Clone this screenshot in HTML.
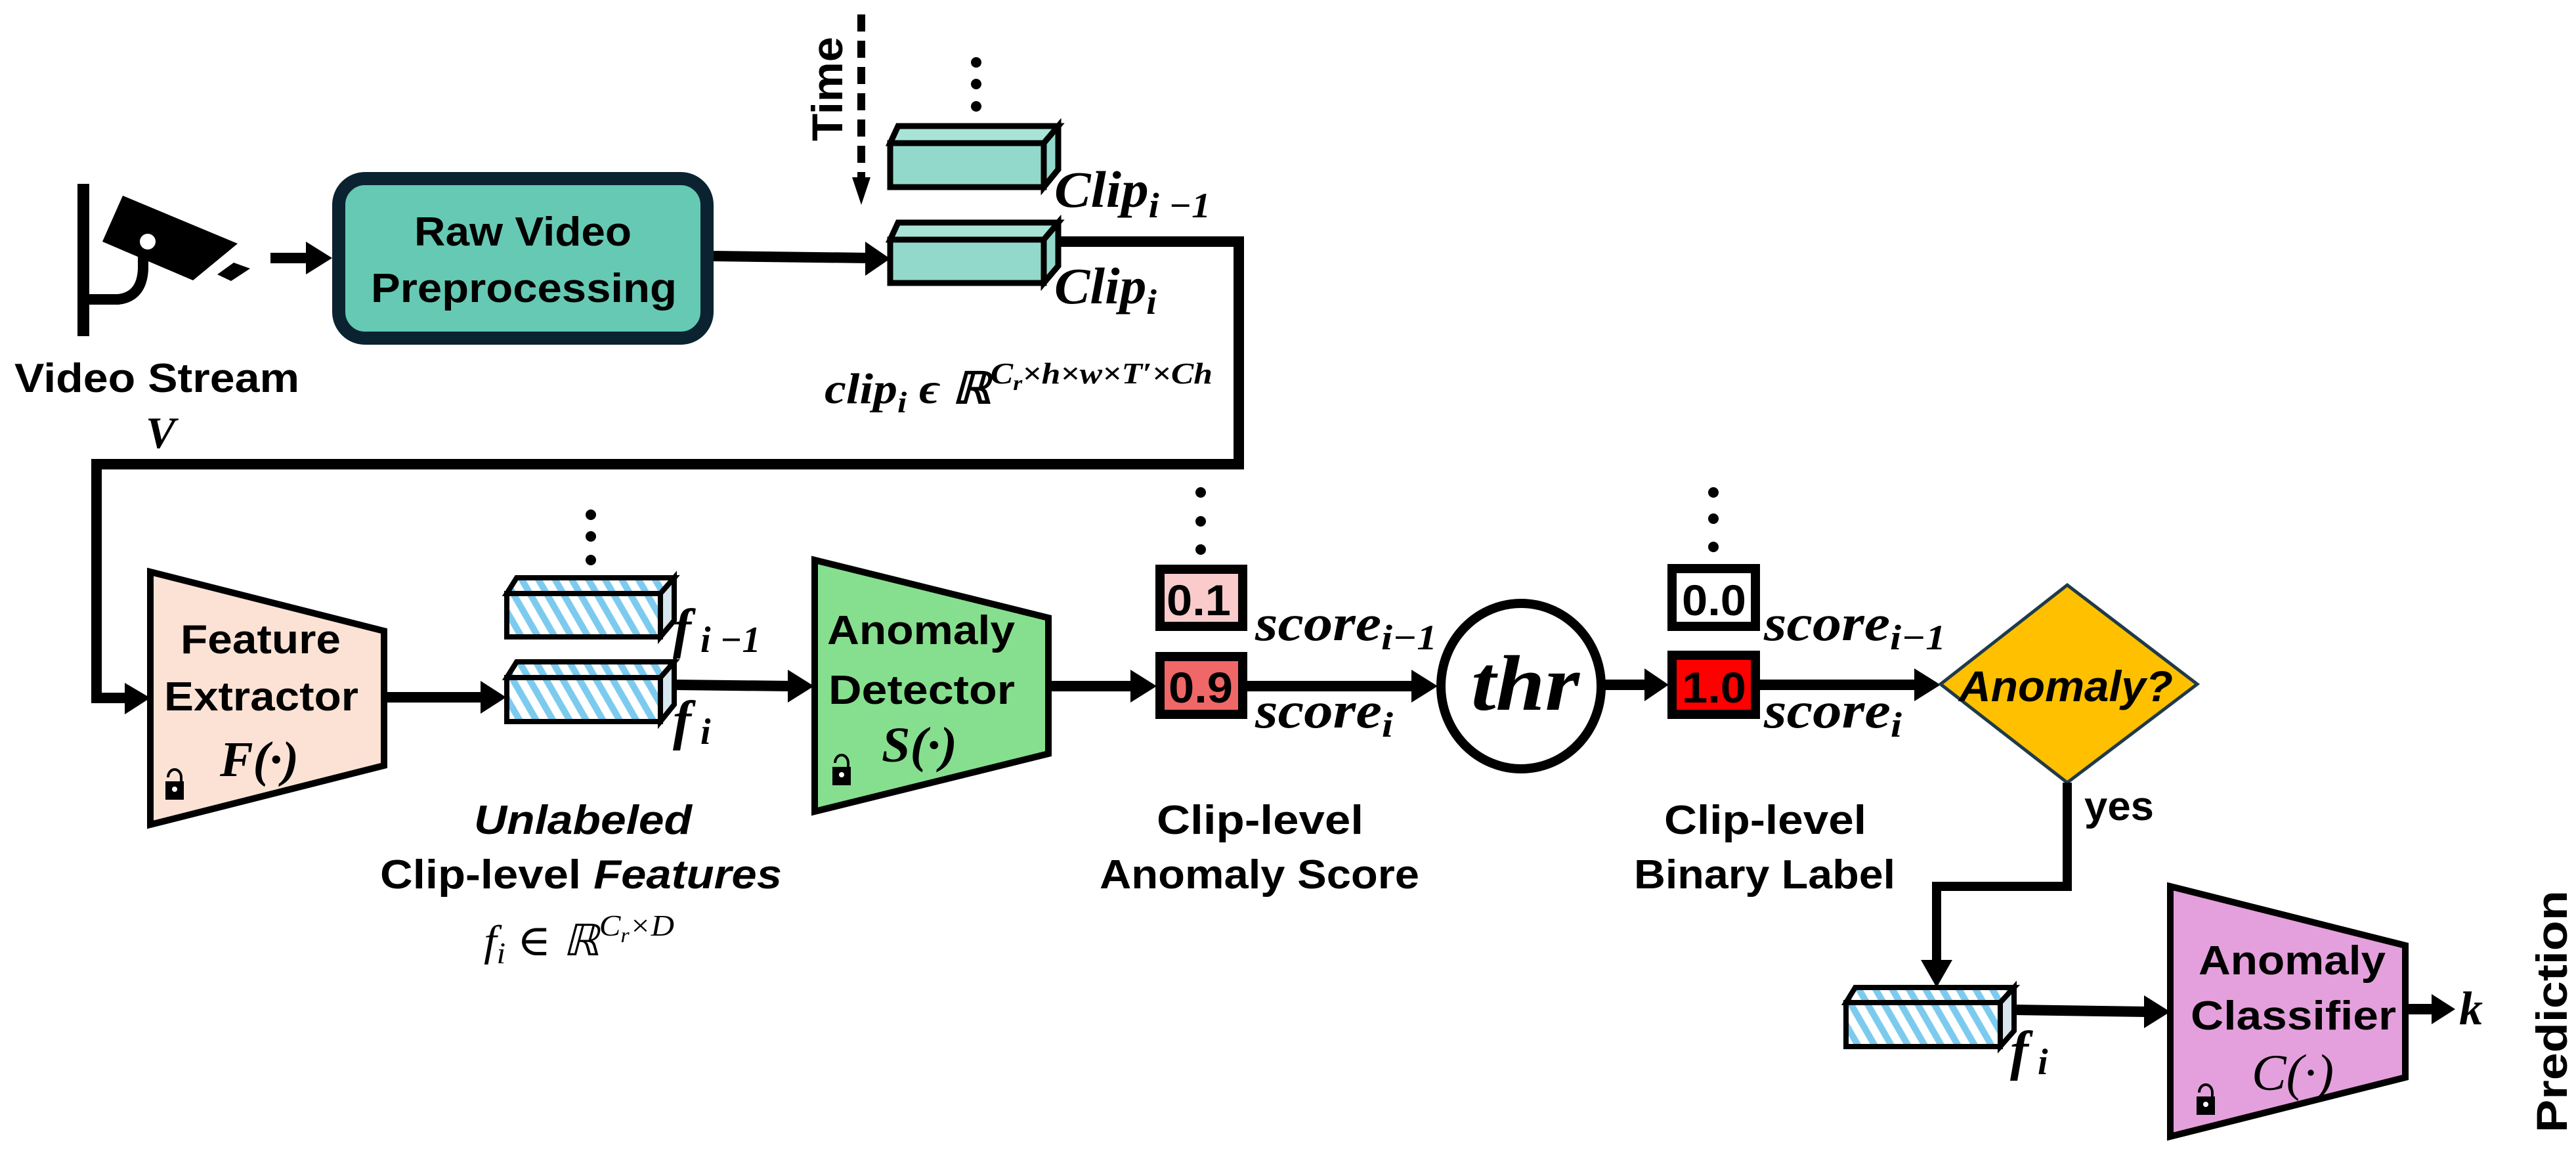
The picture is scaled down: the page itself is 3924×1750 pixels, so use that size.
<!DOCTYPE html>
<html><head><meta charset="utf-8"><style>
html,body{margin:0;padding:0;background:#fff;}
svg{display:block;}
.b{font-family:"Liberation Sans",sans-serif;font-weight:bold;fill:#000;}
.m{font-family:"Liberation Serif","DejaVu Serif",serif;font-style:italic;font-weight:bold;fill:#000;}
.mi{font-family:"Liberation Serif","DejaVu Serif",serif;font-style:italic;fill:#000;}
</style></head><body>
<svg width="3924" height="1750" viewBox="0 0 3924 1750" xmlns="http://www.w3.org/2000/svg">
<defs>
<pattern id="h" patternUnits="userSpaceOnUse" width="22" height="22" patternTransform="rotate(-30)">
<rect width="22" height="22" fill="#fff"/><rect width="10" height="22" fill="#7CCBEF"/>
</pattern>
</defs>

<!-- camera -->
<rect x="118" y="280" width="18" height="232" fill="#000"/>
<path d="M135,456 L180,456 Q216,452 218,410 L218,388" fill="none" stroke="#000" stroke-width="16"/>
<polygon points="187,298 362,371 294,427 156,368" fill="#000"/>
<circle cx="225" cy="368" r="12" fill="#fff"/>
<polygon points="331,418 356,400 381,409 352,428" fill="#000"/>
<text class="b" x="22" y="597" font-size="62" textLength="434" lengthAdjust="spacingAndGlyphs">Video Stream</text>
<text class="m" x="222" y="682" font-size="68">V</text>

<line x1="412" y1="393" x2="470" y2="393" stroke="#000" stroke-width="16"/>
<polygon points="466,368 506,393 466,418" fill="#000"/>

<rect x="516" y="272" width="561" height="243" rx="40" fill="#66C9B4" stroke="#0B2330" stroke-width="20"/>
<text class="b" x="631" y="374" font-size="62" textLength="331" lengthAdjust="spacingAndGlyphs">Raw Video</text>
<text class="b" x="565" y="460" font-size="62" textLength="466" lengthAdjust="spacingAndGlyphs">Preprocessing</text>

<line x1="1087" y1="390" x2="1325" y2="393" stroke="#000" stroke-width="16"/>
<polygon points="1318,368 1356,394 1318,420" fill="#000"/>

<line x1="1312" y1="22" x2="1312" y2="280" stroke="#000" stroke-width="12" stroke-dasharray="26,14"/>
<polygon points="1298,270 1326,270 1312,312" fill="#000"/>
<text class="b" transform="translate(1283,215) rotate(-90)" font-size="66" textLength="159" lengthAdjust="spacingAndGlyphs">Time</text>

<circle cx="1487" cy="95" r="8" fill="#000"/><circle cx="1487" cy="128" r="8" fill="#000"/><circle cx="1487" cy="162" r="8" fill="#000"/>

<g stroke="#000" stroke-width="9" stroke-linejoin="miter">
<polygon points="1356,218 1368,192 1612,192 1590,218" fill="#A8E3D8"/>
<polygon points="1590,218 1612,192 1612,258 1590,285" fill="#93D9CB"/>
<rect x="1356" y="218" width="234" height="67" fill="#93D9CB"/>
<polygon points="1356,365 1368,339 1612,339 1590,365" fill="#A8E3D8"/>
<polygon points="1590,365 1612,339 1612,405 1590,431" fill="#93D9CB"/>
<rect x="1356" y="365" width="234" height="66" fill="#93D9CB"/>
</g>
<text class="m" x="1606" y="315" font-size="78" textLength="238" lengthAdjust="spacingAndGlyphs">Clip<tspan font-size="54" dy="16">i −1</tspan></text>
<text class="m" x="1606" y="462" font-size="78" textLength="156" lengthAdjust="spacingAndGlyphs">Clip<tspan font-size="54" dy="16">i</tspan></text>
<text class="m" x="1256" y="614" font-size="66" textLength="591" lengthAdjust="spacingAndGlyphs">clip<tspan font-size="46" dy="14">i</tspan><tspan dy="-14"> ϵ ℝ</tspan><tspan font-size="46" dy="-30">C</tspan><tspan font-size="32" dy="10">r</tspan><tspan font-size="46" dy="-10">×h×w×T′×Ch</tspan></text>

<polyline points="1612,368 1887,368 1887,707 147,707 147,1063 195,1063" fill="none" stroke="#000" stroke-width="16"/>
<polygon points="190,1040 229,1063 190,1088" fill="#000"/>

<polygon points="229,871 585,961 585,1166 229,1256" fill="#FBE2D5" stroke="#000" stroke-width="10"/>
<text class="b" x="275" y="995" font-size="62" textLength="244" lengthAdjust="spacingAndGlyphs">Feature</text>
<text class="b" x="250" y="1082" font-size="62" textLength="296" lengthAdjust="spacingAndGlyphs">Extractor</text>
<text class="m" x="335" y="1182" font-size="76" textLength="120" lengthAdjust="spacingAndGlyphs">F(·)</text>
<g><path d="M256,1184 a10,12 0 0 1 20,0 v8" fill="none" stroke="#000" stroke-width="4"/><rect x="252" y="1190" width="28" height="28" fill="#000"/><circle cx="266" cy="1202" r="4" fill="#fff"/></g>

<line x1="585" y1="1062" x2="740" y2="1062" stroke="#000" stroke-width="16"/>
<polygon points="732,1037 771,1062 732,1087" fill="#000"/>

<circle cx="900" cy="784" r="8" fill="#000"/><circle cx="900" cy="817" r="8" fill="#000"/><circle cx="900" cy="853" r="8" fill="#000"/>

<g stroke="#000" stroke-width="8">
<polygon points="772,904 787,880 1027,880 1006,904" fill="url(#h)"/>
<polygon points="1006,904 1027,880 1027,945 1006,970" fill="#d8e6ee"/>
<rect x="772" y="904" width="234" height="66" fill="url(#h)"/>
<polygon points="772,1032 787,1008 1027,1008 1006,1032" fill="url(#h)"/>
<polygon points="1006,1032 1027,1008 1027,1073 1006,1099" fill="#d8e6ee"/>
<rect x="772" y="1032" width="234" height="67" fill="url(#h)"/>
</g>
<text class="m" x="1025" y="985" font-size="84">f<tspan font-size="56" dy="8"> i −1</tspan></text>
<text class="m" x="1025" y="1125" font-size="84">f<tspan font-size="56" dy="8"> i</tspan></text>

<line x1="1027" y1="1043" x2="1205" y2="1045" stroke="#000" stroke-width="16"/>
<polygon points="1200,1020 1240,1045 1200,1070" fill="#000"/>

<polygon points="1241,853 1597,941 1597,1148 1241,1236" fill="#86DF8E" stroke="#000" stroke-width="10"/>
<text class="b" x="1260" y="981" font-size="62" textLength="286" lengthAdjust="spacingAndGlyphs">Anomaly</text>
<text class="b" x="1262" y="1072" font-size="62" textLength="284" lengthAdjust="spacingAndGlyphs">Detector</text>
<text class="m" x="1343" y="1160" font-size="76" textLength="115" lengthAdjust="spacingAndGlyphs">S(·)</text>
<g><path d="M1272,1162 a10,12 0 0 1 20,0 v8" fill="none" stroke="#000" stroke-width="4"/><rect x="1268" y="1168" width="28" height="28" fill="#000"/><circle cx="1282" cy="1180" r="4" fill="#fff"/></g>

<line x1="1597" y1="1045" x2="1730" y2="1045" stroke="#000" stroke-width="16"/>
<polygon points="1722,1020 1762,1045 1722,1070" fill="#000"/>

<circle cx="1829" cy="750" r="8" fill="#000"/><circle cx="1829" cy="794" r="8" fill="#000"/><circle cx="1829" cy="837" r="8" fill="#000"/>
<rect x="1767" y="867" width="126" height="87" fill="#F9CBCB" stroke="#000" stroke-width="14"/>
<rect x="1767" y="1000" width="126" height="88" fill="#EF6767" stroke="#000" stroke-width="14"/>
<text class="b" x="1777" y="937" font-size="66" textLength="98" lengthAdjust="spacingAndGlyphs">0.1</text>
<text class="b" x="1780" y="1070" font-size="66" textLength="98" lengthAdjust="spacingAndGlyphs">0.9</text>
<text class="mi" x="1912" y="975" font-size="78" font-weight="bold" textLength="277" lengthAdjust="spacingAndGlyphs">score<tspan font-size="54" dy="14">i−1</tspan></text>
<text class="mi" x="1912" y="1108" font-size="78" font-weight="bold" textLength="210" lengthAdjust="spacingAndGlyphs">score<tspan font-size="54" dy="14">i</tspan></text>

<line x1="1900" y1="1045" x2="2160" y2="1045" stroke="#000" stroke-width="16"/>
<polygon points="2150,1020 2190,1045 2150,1070" fill="#000"/>
<ellipse cx="2317" cy="1045" rx="122" ry="126" fill="#fff" stroke="#000" stroke-width="14"/>
<text class="m" x="2241" y="1081" font-size="120" textLength="165" lengthAdjust="spacingAndGlyphs">thr</text>

<line x1="2443" y1="1043" x2="2510" y2="1043" stroke="#000" stroke-width="16"/>
<polygon points="2505,1018 2542,1043 2505,1068" fill="#000"/>
<circle cx="2610" cy="750" r="8" fill="#000"/><circle cx="2610" cy="790" r="8" fill="#000"/><circle cx="2610" cy="833" r="8" fill="#000"/>
<rect x="2547" y="866" width="127" height="88" fill="#fff" stroke="#000" stroke-width="14"/>
<rect x="2547" y="998" width="127" height="90" fill="#FF0000" stroke="#000" stroke-width="14"/>
<text class="b" x="2562" y="937" font-size="66" textLength="98" lengthAdjust="spacingAndGlyphs">0.0</text>
<text class="b" x="2562" y="1070" font-size="66" textLength="98" lengthAdjust="spacingAndGlyphs">1.0</text>
<text class="mi" x="2687" y="975" font-size="78" font-weight="bold" textLength="277" lengthAdjust="spacingAndGlyphs">score<tspan font-size="54" dy="14">i−1</tspan></text>
<text class="mi" x="2687" y="1108" font-size="78" font-weight="bold" textLength="210" lengthAdjust="spacingAndGlyphs">score<tspan font-size="54" dy="14">i</tspan></text>

<line x1="2681" y1="1043" x2="2920" y2="1043" stroke="#000" stroke-width="16"/>
<polygon points="2916,1018 2956,1043 2916,1068" fill="#000"/>
<polygon points="3149,891 3347,1042 3149,1192 2956,1042" fill="#FFC000" stroke="#1F3A4A" stroke-width="5"/>
<text class="b" x="2984" y="1068" font-size="66" font-style="italic" textLength="326" lengthAdjust="spacingAndGlyphs">Anomaly?</text>

<polyline points="3149,1192 3149,1350 2950,1350 2950,1470" fill="none" stroke="#000" stroke-width="14"/>
<polygon points="2926,1462 2974,1462 2950,1504" fill="#000"/>
<text class="b" x="3175" y="1249" font-size="62" textLength="106" lengthAdjust="spacingAndGlyphs">yes</text>

<g stroke="#000" stroke-width="8">
<polygon points="2812,1527 2826,1504 3068,1504 3047,1527" fill="url(#h)"/>
<polygon points="3047,1527 3068,1504 3068,1570 3047,1594" fill="#d8e6ee"/>
<rect x="2812" y="1527" width="235" height="67" fill="url(#h)"/>
</g>
<text class="m" x="3062" y="1628" font-size="84">f<tspan font-size="56" dy="8"> i</tspan></text>

<line x1="3068" y1="1538" x2="3270" y2="1541" stroke="#000" stroke-width="16"/>
<polygon points="3266,1516 3306,1541 3266,1566" fill="#000"/>

<polygon points="3306,1350 3664,1440 3664,1641 3306,1731" fill="#E4A0DC" stroke="#000" stroke-width="10"/>
<text class="b" x="3349" y="1484" font-size="62" textLength="285" lengthAdjust="spacingAndGlyphs">Anomaly</text>
<text class="b" x="3337" y="1568" font-size="62" textLength="313" lengthAdjust="spacingAndGlyphs">Classifier</text>
<text class="mi" x="3430" y="1660" font-size="78" textLength="125" lengthAdjust="spacingAndGlyphs">C(·)</text>
<g><path d="M3350,1664 a10,12 0 0 1 20,0 v8" fill="none" stroke="#000" stroke-width="4"/><rect x="3346" y="1670" width="28" height="28" fill="#000"/><circle cx="3360" cy="1682" r="4" fill="#fff"/></g>

<line x1="3664" y1="1537" x2="3710" y2="1537" stroke="#000" stroke-width="16"/>
<polygon points="3704,1514 3740,1537 3704,1560" fill="#000"/>
<text class="m" x="3746" y="1560" font-size="72">k</text>
<text class="b" transform="translate(3910,1725) rotate(-90)" font-size="66" textLength="369" lengthAdjust="spacingAndGlyphs">Prediction</text>

<text class="b" x="722" y="1270" font-size="62" font-style="italic" textLength="332" lengthAdjust="spacingAndGlyphs">Unlabeled</text>
<text class="b" x="579" y="1353" font-size="62" textLength="612" lengthAdjust="spacingAndGlyphs">Clip-level <tspan font-style="italic">Features</tspan></text>
<text class="mi" x="737" y="1455" font-size="66" textLength="290" lengthAdjust="spacingAndGlyphs">f<tspan font-size="46" dy="12">i</tspan><tspan dy="-12"> ∈  ℝ</tspan><tspan font-size="46" dy="-30">C</tspan><tspan font-size="32" dy="10">r</tspan><tspan font-size="46" dy="-10">×D</tspan></text>

<text class="b" x="1762" y="1270" font-size="62" textLength="315" lengthAdjust="spacingAndGlyphs">Clip-level</text>
<text class="b" x="1675" y="1353" font-size="62" textLength="487" lengthAdjust="spacingAndGlyphs">Anomaly Score</text>
<text class="b" x="2535" y="1270" font-size="62" textLength="308" lengthAdjust="spacingAndGlyphs">Clip-level</text>
<text class="b" x="2489" y="1353" font-size="62" textLength="398" lengthAdjust="spacingAndGlyphs">Binary Label</text>
</svg>
</body></html>
